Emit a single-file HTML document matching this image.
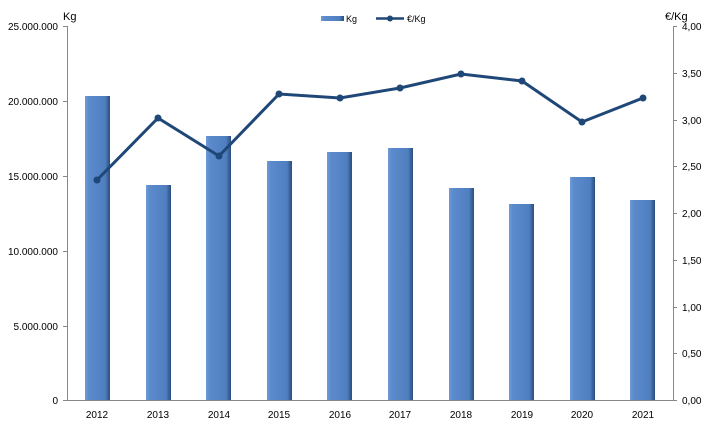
<!DOCTYPE html>
<html><head><meta charset="utf-8"><style>body{margin:0;background:#fff}</style></head><body>
<svg width="725" height="431" xmlns="http://www.w3.org/2000/svg" font-family="Liberation Sans, sans-serif" font-size="10" fill="#000">
<defs>
<linearGradient id="g" x1="0" x2="1" y1="0" y2="0">
<stop offset="0" stop-color="#6f9ad6"/><stop offset="0.15" stop-color="#5b8bcc"/><stop offset="0.8" stop-color="#4f7fc0"/><stop offset="1" stop-color="#2b4d7e"/>
</linearGradient>
</defs>
<g stroke="#888" stroke-width="1">
<line x1="67.5" y1="26" x2="67.5" y2="400"/>
<line x1="673.5" y1="26" x2="673.5" y2="400"/>
<line x1="67" y1="400.5" x2="673" y2="400.5"/>
<line x1="63" y1="26.5" x2="67" y2="26.5"/><line x1="63" y1="101.5" x2="67" y2="101.5"/><line x1="63" y1="176.5" x2="67" y2="176.5"/><line x1="63" y1="251.5" x2="67" y2="251.5"/><line x1="63" y1="326.5" x2="67" y2="326.5"/><line x1="63" y1="400.5" x2="67" y2="400.5"/>
<line x1="673" y1="26.5" x2="677" y2="26.5"/><line x1="673" y1="73.5" x2="677" y2="73.5"/><line x1="673" y1="120.5" x2="677" y2="120.5"/><line x1="673" y1="166.5" x2="677" y2="166.5"/><line x1="673" y1="213.5" x2="677" y2="213.5"/><line x1="673" y1="260.5" x2="677" y2="260.5"/><line x1="673" y1="307.5" x2="677" y2="307.5"/><line x1="673" y1="353.5" x2="677" y2="353.5"/><line x1="673" y1="400.5" x2="677" y2="400.5"/>
</g>
<g text-anchor="end">
<text x="58" y="30">25.000.000</text><text x="58" y="105">20.000.000</text><text x="58" y="180">15.000.000</text><text x="58" y="255">10.000.000</text><text x="58" y="330">5.000.000</text><text x="58" y="404">0</text>
</g>
<g text-anchor="start">
<text x="682" y="30">4,00</text><text x="682" y="77">3,50</text><text x="682" y="124">3,00</text><text x="682" y="170">2,50</text><text x="682" y="217">2,00</text><text x="682" y="264">1,50</text><text x="682" y="311">1,00</text><text x="682" y="357">0,50</text><text x="682" y="404">0,00</text>
</g>
<text x="63" y="20" font-size="11">Kg</text>
<text x="665" y="20" font-size="11">€/Kg</text>
<g fill="url(#g)">
<rect x="85" y="96" width="25" height="304"/>
<rect x="146" y="185" width="25" height="215"/>
<rect x="206" y="136" width="25" height="264"/>
<rect x="267" y="161" width="25" height="239"/>
<rect x="327" y="152" width="25" height="248"/>
<rect x="388" y="148" width="25" height="252"/>
<rect x="449" y="188" width="25" height="212"/>
<rect x="509" y="204" width="25" height="196"/>
<rect x="570" y="177" width="25" height="223"/>
<rect x="630" y="200" width="25" height="200"/>
</g>
<g text-anchor="middle">
<text x="97" y="418">2012</text><text x="158" y="418">2013</text><text x="219" y="418">2014</text><text x="279" y="418">2015</text><text x="340" y="418">2016</text><text x="400" y="418">2017</text><text x="461" y="418">2018</text><text x="522" y="418">2019</text><text x="582" y="418">2020</text><text x="643" y="418">2021</text>
</g>
<polyline fill="none" stroke="#1f4777" stroke-width="3" points="97,180 158,118 219,156 279,94 340,98 400,88 461,74 522,81 582,122 643,98"/>
<g fill="#1f4777">
<circle cx="97" cy="180" r="3.5"/><circle cx="158" cy="118" r="3.5"/><circle cx="219" cy="156" r="3.5"/><circle cx="279" cy="94" r="3.5"/><circle cx="340" cy="98" r="3.5"/><circle cx="400" cy="88" r="3.5"/><circle cx="461" cy="74" r="3.5"/><circle cx="522" cy="81" r="3.5"/><circle cx="582" cy="122" r="3.5"/><circle cx="643" cy="98" r="3.5"/>
</g>
<rect x="321" y="16" width="23" height="5" fill="url(#g)"/>
<text x="346" y="22" font-size="9">Kg</text>
<line x1="376" y1="18.5" x2="404" y2="18.5" stroke="#1f4777" stroke-width="2.5"/>
<circle cx="390" cy="18.5" r="3" fill="#1f4777"/>
<text x="407" y="22" font-size="9">€/Kg</text>
</svg>
</body></html>
